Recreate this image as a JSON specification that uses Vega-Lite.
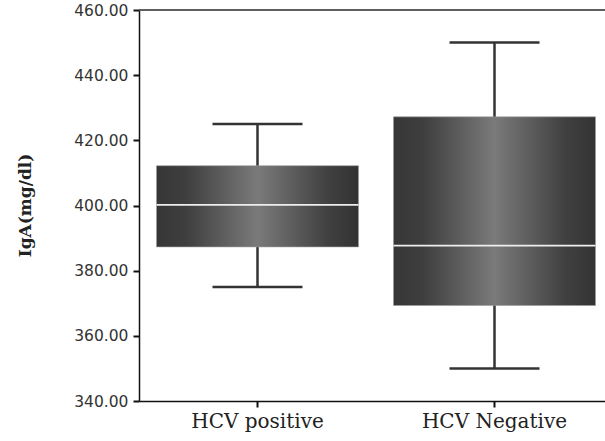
{
  "$schema": "https://vega.github.io/schema/vega-lite/v6.json",
  "width": 466,
  "height": 391,
  "autosize": {"type": "none"},
  "padding": {"left": 139, "top": 10, "right": 0, "bottom": 40},
  "background": "#ffffff",
  "config": {
    "view": {"stroke": null},
    "axis": {"grid": false}
  },
  "data": {
    "values": [
      {"group": "HCV positive", "min": 375, "q1": 387.3, "median": 400.2, "q3": 412.2, "max": 425},
      {"group": "HCV Negative", "min": 350, "q1": 369.3, "median": 387.7, "q3": 427.2, "max": 450}
    ]
  },
  "encoding": {
    "x": {
      "field": "group",
      "type": "nominal",
      "sort": ["HCV positive", "HCV Negative"],
      "scale": {"type": "band", "range": [0, 474], "paddingInner": 0, "paddingOuter": 0},
      "axis": {
        "title": null,
        "labelAngle": 0,
        "labelFont": "DejaVu Serif",
        "labelFontSize": 20,
        "labelColor": "#222",
        "labelPadding": 4,
        "tickSize": 6,
        "tickWidth": 2,
        "tickColor": "#111",
        "domainColor": "#111",
        "domainWidth": 1.5
      }
    }
  },
  "layer": [
    {
      "mark": {"type": "rule", "color": "#555", "strokeWidth": 1.5},
      "encoding": {"x": null, "y": {"datum": 460, "type": "quantitative"}}
    },
    {
      "mark": {"type": "rule", "color": "#333", "strokeWidth": 2.5},
      "encoding": {
        "y": {
          "field": "min",
          "type": "quantitative",
          "scale": {"domain": [340, 460], "nice": false, "zero": false},
          "axis": {
            "title": "IgA(mg/dl)",
            "values": [340, 360, 380, 400, 420, 440, 460],
            "format": ".2f",
            "labelFont": "DejaVu Sans",
            "labelFontSize": 15.5,
            "labelColor": "#333",
            "labelPadding": 5,
            "tickSize": 6,
            "tickWidth": 2,
            "tickColor": "#111",
            "domainColor": "#111",
            "domainWidth": 1.5,
            "titleFont": "DejaVu Serif",
            "titleFontWeight": "bold",
            "titleFontSize": 17,
            "titleColor": "#222",
            "titleX": -114,
            "titleY": 195,
            "titleAngle": -90,
            "titleAlign": "center",
            "titleBaseline": "middle"
          }
        },
        "y2": {"field": "max"}
      }
    },
    {
      "mark": {
        "type": "bar",
        "size": 202,
        "stroke": "#9a9a9a",
        "strokeWidth": 0.6,
        "fill": {
          "gradient": "linear",
          "x1": 0, "y1": 0, "x2": 1, "y2": 0,
          "stops": [
            {"offset": 0, "color": "#363636"},
            {"offset": 0.15, "color": "#3f3f3f"},
            {"offset": 0.5, "color": "#7a7a7a"},
            {"offset": 0.85, "color": "#404040"},
            {"offset": 1, "color": "#333333"}
          ]
        }
      },
      "encoding": {
        "y": {"field": "q1", "type": "quantitative"},
        "y2": {"field": "q3"}
      }
    },
    {
      "mark": {"type": "tick", "size": 202, "thickness": 1.6, "color": "#eeeeee", "opacity": 1},
      "encoding": {"y": {"field": "median", "type": "quantitative"}}
    },
    {
      "mark": {"type": "tick", "size": 90, "thickness": 2.5, "color": "#333", "opacity": 1},
      "encoding": {"y": {"field": "min", "type": "quantitative"}}
    },
    {
      "mark": {"type": "tick", "size": 90, "thickness": 2.5, "color": "#333", "opacity": 1},
      "encoding": {"y": {"field": "max", "type": "quantitative"}}
    }
  ]
}
